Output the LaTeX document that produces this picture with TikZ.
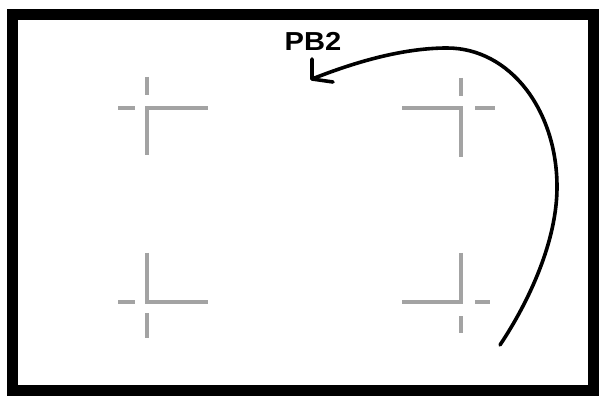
\documentclass[tikz,border=0pt]{standalone}
\usepackage{fontspec}
\setmainfont{Liberation Sans}
\usetikzlibrary{arrows.meta}
\begin{document}
\begin{tikzpicture}[x=1pt,y=-1pt,
  frame/.style={line width=11pt},
  cropmark/.style={draw=black!36,line width=3.2pt},
  conn/.style={line width=3.6pt,line cap=round,line join=round},
  lbl/.style={font=\bfseries\fontsize{26}{26}\selectfont,inner sep=0pt,xscale=1.12}]
\useasboundingbox[fill=white] (0,0) rectangle (608,398);
\draw[frame] (12.5,14.5) rectangle (593.5,390.5);
% top-left mark
\draw[cropmark] (147,155) -- (147,108) -- (208,108);
\draw[cropmark] (147,77) -- (147,95);
\draw[cropmark] (118,108) -- (135,108);
% top-right mark
\draw[cropmark] (402,108) -- (461,108) -- (461,157);
\draw[cropmark] (461,78) -- (461,96);
\draw[cropmark] (475,108) -- (495,108);
% bottom-left mark
\draw[cropmark] (147,253) -- (147,302) -- (208,302);
\draw[cropmark] (118,302) -- (135,302);
\draw[cropmark] (147,313) -- (147,338);
% bottom-right mark
\draw[cropmark] (461,253) -- (461,302) -- (402,302);
\draw[cropmark] (475,302) -- (490,302);
\draw[cropmark] (461,316) -- (461,333);
% label and arrow
\node[lbl] (pb2) at (313,41) {PB2};
\coordinate (start) at (500,345);
\coordinate (tip) at (312,79);
\coordinate (barbA) at (312,59);
\coordinate (barbB) at (333,82);
\draw[conn] (start) .. controls (530,300) and (557,240) .. (557,187)
  .. controls (557,110) and (510,48) .. (447,48)
  .. controls (400,48) and (350,64) .. (tip);
\draw[conn] (barbA) -- (tip) -- (barbB);
\end{tikzpicture}
\end{document}
